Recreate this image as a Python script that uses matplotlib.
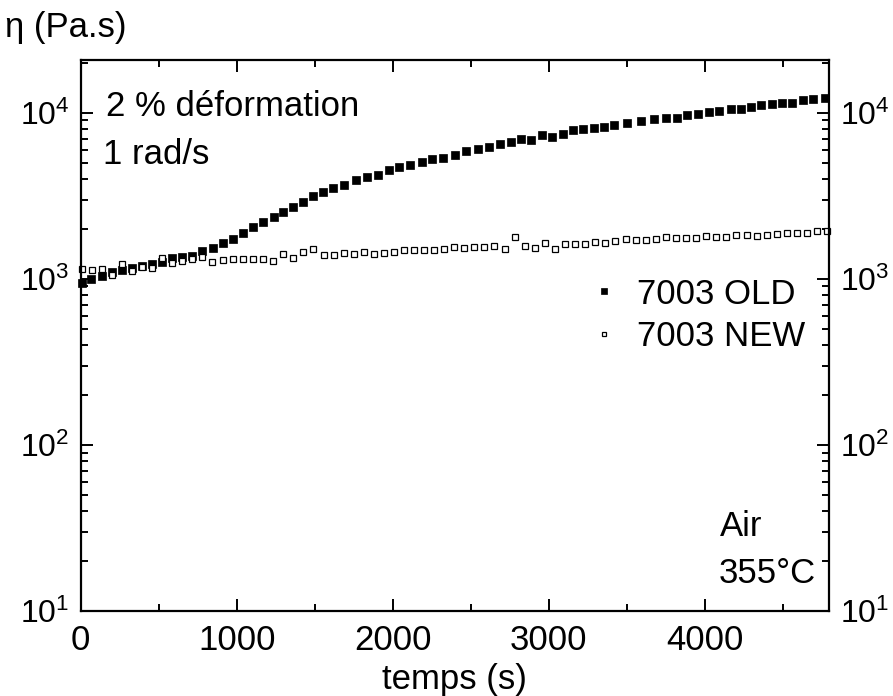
import math
import matplotlib
matplotlib.use('Agg')
import matplotlib.pyplot as plt
from matplotlib.ticker import FixedLocator, LogLocator, NullFormatter, FuncFormatter

plt.rcParams['font.family'] = ['Liberation Sans', 'DejaVu Sans']
plt.rcParams['mathtext.fontset'] = 'custom'
plt.rcParams['mathtext.rm'] = 'Liberation Sans'
plt.rcParams['mathtext.it'] = 'Liberation Sans:italic'
plt.rcParams['font.size'] = 25

# DATA
t_old = [10, 68, 138, 203, 267, 331, 395, 459, 523, 587,
         651, 715, 779, 846, 912, 977, 1041, 1107, 1169, 1239,
         1298, 1362, 1426, 1490, 1554, 1619, 1687, 1764, 1836, 1908,
         1975, 2040, 2112, 2184, 2252, 2323, 2400, 2471, 2544, 2618,
         2689, 2755, 2823, 2887, 2956, 3020, 3090, 3156, 3220, 3289,
         3353, 3419, 3498, 3592, 3673, 3750, 3819, 3887, 3955, 4028,
         4092, 4165, 4229, 4297, 4361, 4430, 4494, 4558, 4630, 4694,
         4769]
eta_old = [942, 993, 1038, 1094, 1125, 1157, 1198, 1232, 1266, 1328,
           1348, 1376, 1469, 1531, 1641, 1735, 1885, 2043, 2214, 2374,
           2544, 2726, 2922, 3162, 3329, 3519, 3684, 3948, 4106, 4233,
           4536, 4729, 4862, 5054, 5269, 5343, 5610, 5864, 6094, 6266,
           6478, 6661, 6944, 6877, 7340, 7198, 7472, 7900, 7977, 8155,
           8270, 8467, 8670, 8950, 9163, 9369, 9369, 9685, 9903, 10097,
           10280, 10570, 10614, 10867, 11176, 11332, 11441, 11441, 11977, 12093,
           12263]

t_new = [10, 71, 135, 203, 267, 331, 391, 459, 523, 587,
         651, 715, 779, 843, 912, 976, 1040, 1104, 1168, 1232,
         1296, 1360, 1424, 1488, 1557, 1621, 1685, 1749, 1813, 1881,
         1945, 2009, 2073, 2138, 2202, 2266, 2330, 2394, 2458, 2522,
         2586, 2650, 2717, 2781, 2847, 2911, 2977, 3041, 3105, 3169,
         3233, 3295, 3359, 3424, 3492, 3556, 3620, 3684, 3750, 3814,
         3879, 3943, 4007, 4071, 4135, 4199, 4267, 4332, 4396, 4460,
         4524, 4588, 4652, 4716, 4780]
eta_new = [1149, 1133, 1149, 1053, 1232, 1117, 1186, 1160, 1344, 1244,
           1289, 1320, 1357, 1261, 1302, 1326, 1320, 1326, 1314, 1289,
           1409, 1333, 1448, 1522, 1401, 1395, 1435, 1415, 1448, 1415,
           1429, 1448, 1499, 1495, 1501, 1501, 1510, 1548, 1537, 1559,
           1559, 1574, 1522, 1791, 1587, 1544, 1641, 1510, 1625, 1618,
           1625, 1678, 1648, 1694, 1742, 1718, 1725, 1742, 1783, 1766,
           1766, 1766, 1808, 1791, 1791, 1849, 1833, 1823, 1849, 1859,
           1901, 1901, 1885, 1954, 1946]

labels = ['7003 OLD', '7003 NEW']
x_major = [0, 1000, 2000, 3000, 4000]
x_minor = [500, 1500, 2500, 3500, 4500]

fig = plt.figure(figsize=(8.93, 6.96), dpi=100)
ax = fig.add_axes([0.0904, 0.1221, 0.8379, 0.7917])

ax.plot(t_old, eta_old, 's', color='black', ms=5.4, mew=0.5, label=labels[0], clip_on=False)
ax.plot(t_new, eta_new, 's', mfc='white', mec='black', ms=4.2, mew=0.9, label=labels[1], clip_on=False)

ax.set_yscale('log')
ax.set_xlim(0, 4795)
ax.set_ylim(10, 2.08e4)

ax.xaxis.set_major_locator(FixedLocator(x_major))
ax.xaxis.set_minor_locator(FixedLocator(x_minor))
ax.yaxis.set_major_locator(LogLocator(base=10, numticks=10))
ax.yaxis.set_minor_locator(LogLocator(base=10, subs=range(2, 10), numticks=10))
ax.yaxis.set_minor_formatter(NullFormatter())
ax.yaxis.set_major_formatter(FuncFormatter(lambda v, p: r'$10^{%d}$' % round(math.log10(v))))

ax.tick_params(which='both', direction='in', top=True, right=True, labelright=True, width=1.4)
ax.tick_params(which='major', length=8.5, pad=9)
ax.tick_params(which='minor', length=5)
ax.tick_params(axis='y', labelsize=23, pad=8)
for s in ax.spines.values():
    s.set_linewidth(1.6)

ax.set_xlabel('temps (s)', labelpad=5)
fig.text(0.006, 0.96, 'η (Pa.s)', ha='left', va='center')

ax.text(0.034, 0.915, '2 % déformation', transform=ax.transAxes, ha='left', va='center')
ax.text(0.030, 0.8285, '1 rad/s', transform=ax.transAxes, ha='left', va='center')
ax.text(0.854, 0.154, 'Air', transform=ax.transAxes, ha='left', va='center')
ax.text(0.852, 0.068, '355°C', transform=ax.transAxes, ha='left', va='center')

ax.legend(loc='upper left', bbox_to_anchor=(0.678, 0.605), frameon=False,
          borderpad=0, borderaxespad=0, handlelength=0.9, handletextpad=0.5,
          labelspacing=0.28, markerscale=0.8)

fig.savefig('out.png', dpi=100)
